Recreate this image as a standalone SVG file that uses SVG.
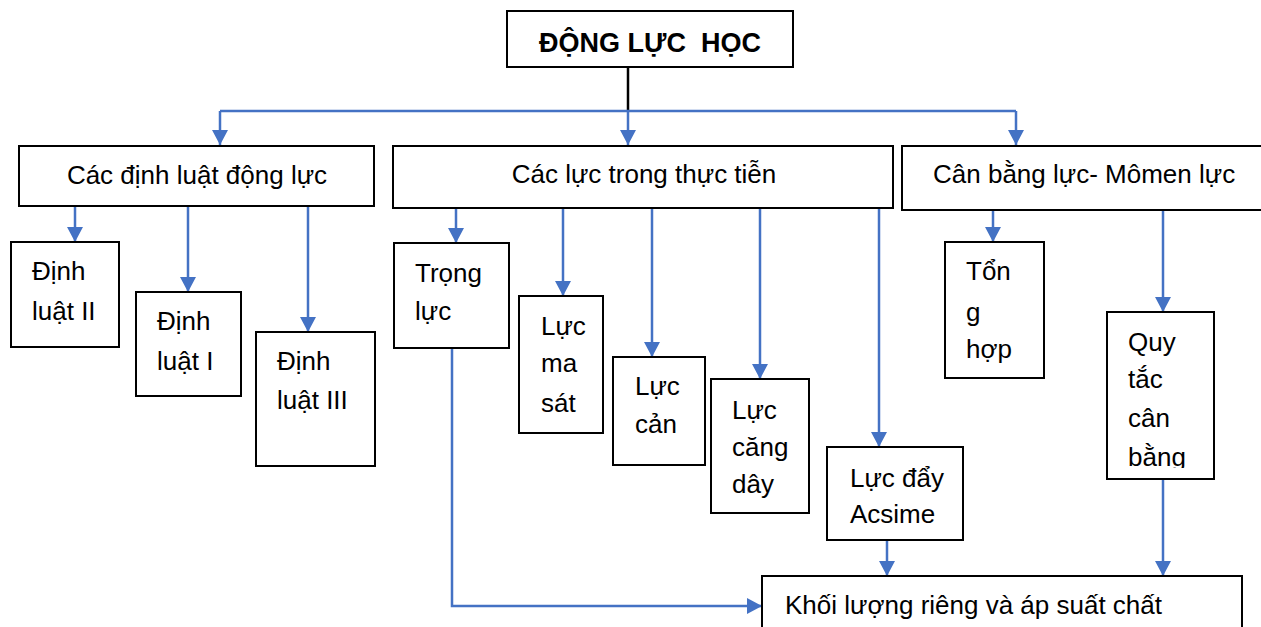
<svg xmlns="http://www.w3.org/2000/svg" width="1261" height="627" viewBox="0 0 1261 627">
<style>
.box{fill:#fff;stroke:#000;stroke-width:2}
.t{font-family:"Liberation Sans",Arial,sans-serif;font-size:26px;fill:#000}
.title{font-family:"Liberation Sans",Arial,sans-serif;font-size:27px;font-weight:bold;fill:#000;white-space:pre}
.c{fill:none;stroke:#4472C4;stroke-width:2.5}
.a{fill:none;stroke:#4472C4;stroke-width:2.5;marker-end:url(#ah)}
</style>
<defs>
<marker id="ah" markerUnits="userSpaceOnUse" markerWidth="16" markerHeight="16" refX="15" refY="8" orient="auto">
<path d="M0,0 L15,8 L0,16 z" fill="#4472C4"/>
</marker>
<clipPath id="clipQ"><rect x="1107" y="312" width="107" height="156"/></clipPath>
</defs>
<rect width="1261" height="627" fill="#fff"/>

<g id="connectors">
<path d="M628,67 V111" fill="none" stroke="#000" stroke-width="2.5"/>
<path class="c" d="M220,111 H1016"/>
<path class="a" d="M220,111 V145"/>
<path class="a" d="M628,111 V145"/>
<path class="a" d="M1016,111 V145"/>
<path class="a" d="M75,206 V242"/>
<path class="a" d="M188,206 V292"/>
<path class="a" d="M308,206 V332"/>
<path class="a" d="M456,208 V243"/>
<path class="a" d="M563,208 V296"/>
<path class="a" d="M652,208 V357"/>
<path class="a" d="M760,208 V379"/>
<path class="a" d="M879,208 V447"/>
<path class="a" d="M993,210 V242"/>
<path class="a" d="M1163,210 V312"/>
<path class="a" d="M452,348 V606 H762"/>
<path class="a" d="M887,540 V576"/>
<path class="a" d="M1163,479 V576"/>
</g>

<g id="root">
<rect class="box" x="507" y="11" width="286" height="56"/>
<text class="title" x="650" y="52" text-anchor="middle" xml:space="preserve">ĐỘNG LỰC  HỌC</text>
</g>

<g id="dinhluat">
<rect class="box" x="19" y="146" width="355" height="60"/>
<text class="t" x="197" y="184" text-anchor="middle">Các định luật động lực</text>
</g>
<g id="cacluc">
<rect class="box" x="393" y="146" width="500" height="62"/>
<text class="t" x="644" y="183" text-anchor="middle">Các lực trong thực tiễn</text>
</g>
<g id="canbang">
<rect class="box" x="902" y="146" width="370" height="64"/>
<text class="t" x="933" y="183">Cân bằng lực- Mômen lực</text>
</g>

<g id="dl2">
<rect class="box" x="11" y="242" width="108" height="105"/>
<text class="t" x="32" y="280">Định</text>
<text class="t" x="32" y="320">luật II</text>
</g>
<g id="dl1">
<rect class="box" x="136" y="292" width="105" height="104"/>
<text class="t" x="157" y="330">Định</text>
<text class="t" x="157" y="370">luật I</text>
</g>
<g id="dl3">
<rect class="box" x="256" y="332" width="119" height="134"/>
<text class="t" x="277" y="370">Định</text>
<text class="t" x="277" y="409">luật III</text>
</g>

<g id="trongluc">
<rect class="box" x="394" y="243" width="115" height="105"/>
<text class="t" x="415" y="282">Trọng</text>
<text class="t" x="415" y="320">lực</text>
</g>
<g id="masat">
<rect class="box" x="519" y="296" width="84" height="137"/>
<text class="t" x="541" y="335">Lực</text>
<text class="t" x="541" y="372">ma</text>
<text class="t" x="541" y="412">sát</text>
</g>
<g id="lucCan">
<rect class="box" x="613" y="357" width="92" height="108"/>
<text class="t" x="635" y="395">Lực</text>
<text class="t" x="635" y="433">cản</text>
</g>
<g id="cangday">
<rect class="box" x="711" y="379" width="98" height="134"/>
<text class="t" x="732" y="419">Lực</text>
<text class="t" x="732" y="456">căng</text>
<text class="t" x="732" y="493">dây</text>
</g>
<g id="acsime">
<rect class="box" x="827" y="447" width="136" height="93"/>
<text class="t" x="850" y="487">Lực đẩy</text>
<text class="t" x="850" y="523">Acsime</text>
</g>

<g id="tonghop">
<rect class="box" x="945" y="242" width="99" height="136"/>
<text class="t" x="966" y="280">Tổn</text>
<text class="t" x="966" y="321">g</text>
<text class="t" x="966" y="358">hợp</text>
</g>
<g id="quytac">
<rect class="box" x="1107" y="312" width="107" height="167"/>
<g clip-path="url(#clipQ)">
<text class="t" x="1128" y="351">Quy</text>
<text class="t" x="1128" y="388">tắc</text>
<text class="t" x="1128" y="427">cân</text>
<text class="t" x="1128" y="466">bằng</text>
</g>
</g>

<g id="khoiluong">
<rect class="box" x="762" y="576" width="480" height="70"/>
<text class="t" x="785" y="614">Khối lượng riêng và áp suất chất</text>
</g>
</svg>
